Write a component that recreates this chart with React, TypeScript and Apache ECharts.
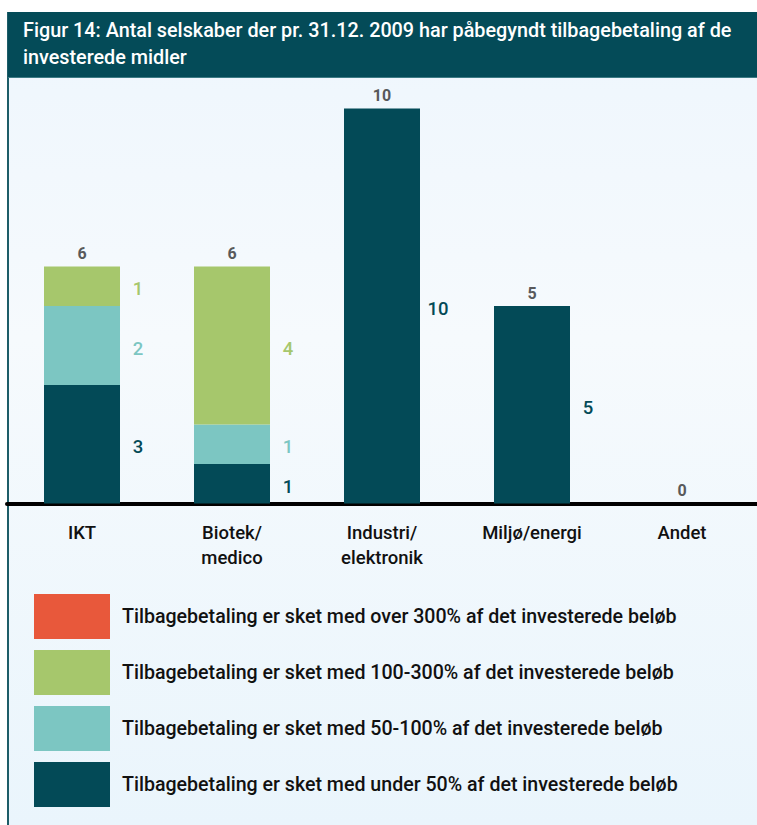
import React, { useEffect, useRef } from "react";
import * as echarts from "echarts";

const categories = ["IKT", "Biotek/\nmedico", "Industri/\nelektronik", "Miljø/energi", "Andet"];
const under50 = [3, 1, 10, 5, 0];
const p50to100 = [2, 1, 0, 0, 0];
const p100to300 = [1, 4, 0, 0, 0];
const over300 = [0, 0, 0, 0, 0];
const seriesNames = [
  "Tilbagebetaling er sket med over 300% af det investerede beløb",
  "Tilbagebetaling er sket med 100-300% af det investerede beløb",
  "Tilbagebetaling er sket med 50-100% af det investerede beløb",
  "Tilbagebetaling er sket med under 50% af det investerede beløb",
];
const titleLines = [
  "Figur 14: Antal selskaber der pr. 31.12. 2009 har påbegyndt tilbagebetaling af de",
  "investerede midler",
];

const C_DARK = "#034a57";
const C_LTEAL = "#7cc6c2";
const C_GREEN = "#a6c76c";
const C_ORANGE = "#e8583b";
const FONT = "Roboto, 'Noto Sans', sans-serif";

export default function App() {
  const ref = useRef<HTMLDivElement>(null);
  useEffect(() => {
    if (!ref.current) return;
    const chart = echarts.init(ref.current, undefined, { renderer: "svg" });
    const totals = categories.map((_, i) => under50[i] + p50to100[i] + p100to300[i] + over300[i]);
    const segLabel = (color: string) => ({
      show: true,
      position: ["100%", "50%"],
      align: "center",
      verticalAlign: "middle",
      offset: [18, 3],
      color,
      fontSize: 18.5,
      fontWeight: 500,
      fontFamily: FONT,
      formatter: (p: any) => (p.value > 0 ? String(p.value) : ""),
    });
    const mk = (name: string, data: number[], color: string) => ({
      name,
      type: "bar",
      stack: "s",
      data,
      barWidth: 76,
      barGap: "-100%",
      itemStyle: { color },
      label: segLabel(color),
      emphasis: { disabled: true },
    });
    chart.setOption({
      animation: false,
      backgroundColor: "#ffffff",
      textStyle: { fontFamily: FONT },
      graphic: [
        {
          type: "rect",
          shape: { x: 8, y: 12, width: 749, height: 813 },
          style: {
            fill: new echarts.graphic.LinearGradient(0, 0, 0, 1, [
              { offset: 0, color: "#eef6fd" },
              { offset: 0.4, color: "#f6fafd" },
              { offset: 1, color: "#eaf5fc" },
            ]),
          },
          z: -10,
        },
        {
          type: "rect",
          shape: { x: 7, y: 12, width: 2, height: 813 },
          style: { fill: "#1d5d68" },
          z: -5,
        },
        {
          type: "rect",
          shape: { x: 8, y: 12, width: 749, height: 66 },
          style: { fill: "#044b58" },
          z: -5,
        },
        {
          type: "rect",
          shape: { x: 8, y: 77, width: 749, height: 1 },
          style: { fill: "#3d7b85" },
          z: -4,
        },
        {
          type: "text",
          left: 23,
          top: 17,
          style: {
            text: titleLines.join("\n"),
            fill: "#ffffff",
            fontSize: 19.8,
            fontWeight: 500,
            fontFamily: FONT,
            lineHeight: 27,
          },
          z: 10,
        },
      ],
      grid: { left: 7, right: 0, top: 108.5, bottom: 321.5, containLabel: false },
      xAxis: {
        type: "category",
        data: categories,
        offset: 2.5,
        axisLine: { show: true, lineStyle: { color: "#000000", width: 4 } },
        axisTick: { show: false },
        axisLabel: {
          color: "#111111",
          fontSize: 18.5,
          fontWeight: 500,
          fontFamily: FONT,
          margin: 14,
          lineHeight: 25,
          interval: 0,
        },
      },
      yAxis: { type: "value", min: 0, max: 10, show: false, splitLine: { show: false } },
      legend: {
        orient: "vertical",
        left: 34,
        top: 594,
        itemWidth: 76,
        itemHeight: 45,
        itemGap: 11,
        padding: 0,
        icon: "rect",
        selectedMode: false,
        data: seriesNames,
        textStyle: {
          color: "#111111",
          fontSize: 19.6,
          fontWeight: 500,
          fontFamily: FONT,
          padding: [2, 0, 0, 7],
        },
      },
      series: [
        mk(seriesNames[3], under50, C_DARK),
        mk(seriesNames[2], p50to100, C_LTEAL),
        mk(seriesNames[1], p100to300, C_GREEN),
        mk(seriesNames[0], over300, C_ORANGE),
        {
          name: "Total",
          type: "bar",
          data: totals,
          barWidth: 76,
          barGap: "-100%",
          itemStyle: { color: "rgba(0,0,0,0)" },
          z: 1,
          emphasis: { disabled: true },
          label: {
            show: true,
            position: "top",
            distance: 5,
            color: "#58595b",
            fontSize: 16,
            fontWeight: "bold",
            fontFamily: FONT,
          },
        },
      ],
    });
    return () => chart.dispose();
  }, []);
  return (
    <div
      ref={ref}
      style={{ position: "fixed", left: 0, top: 0, width: 757, height: 825 }}
    />
  );
}
